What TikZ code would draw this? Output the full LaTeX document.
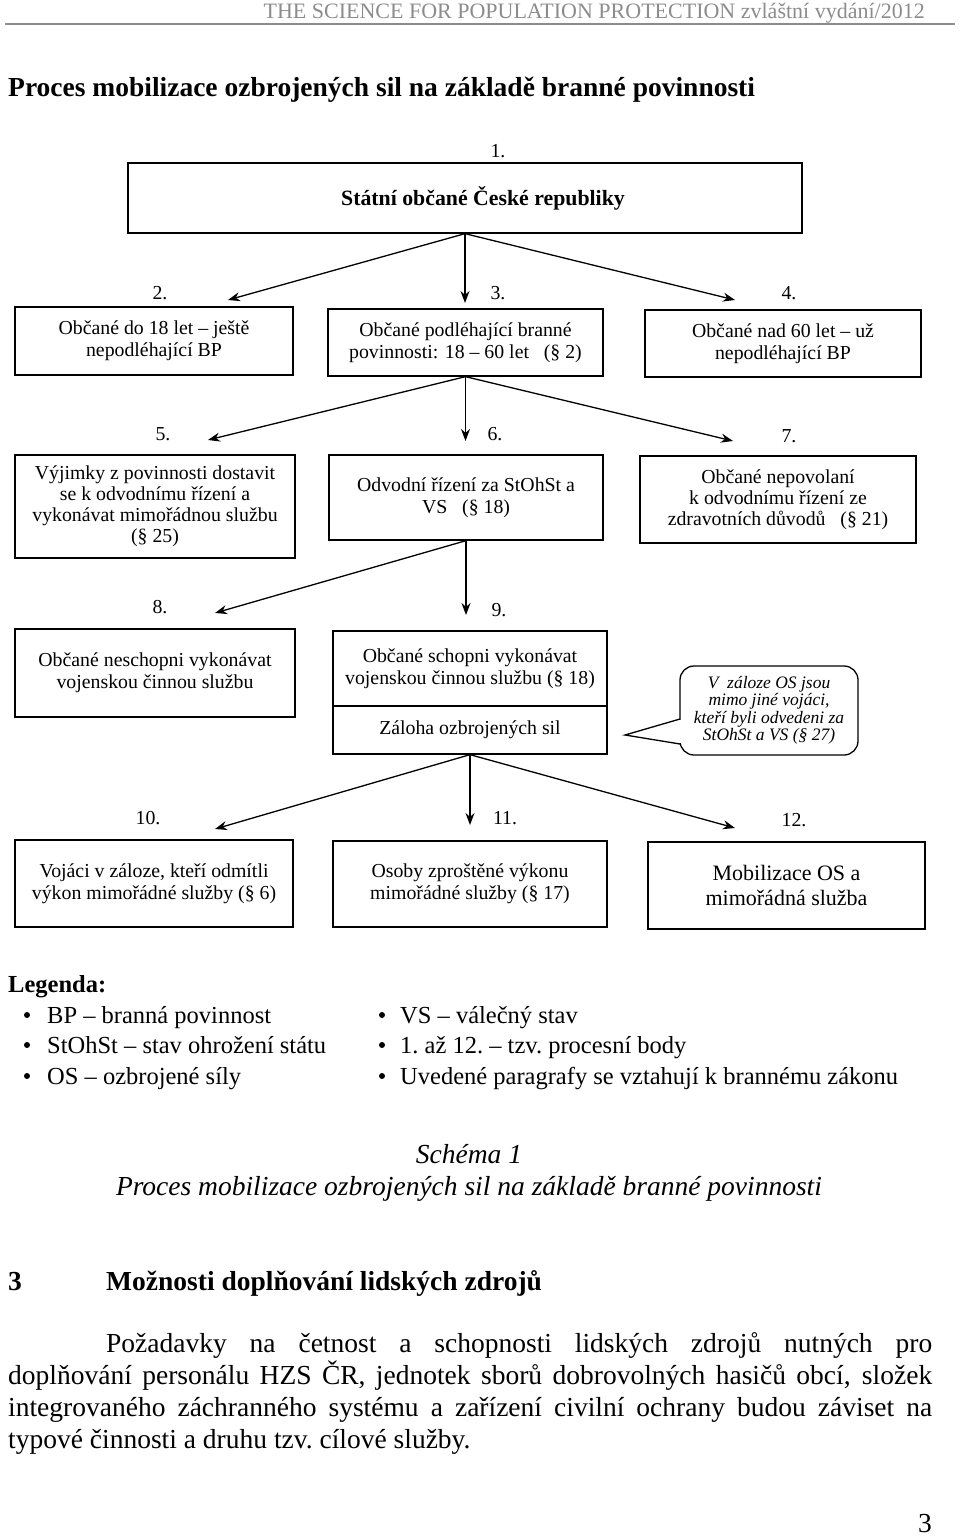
\documentclass[tikz,border=0pt]{standalone}
\usepackage{fontspec}
\setmainfont{Liberation Serif}
\usetikzlibrary{arrows.meta}
\definecolor{hdgray}{RGB}{140,140,140}
\begin{document}
\begin{tikzpicture}[x=1pt,y=-1pt,
  box/.style={draw,line width=1.3pt,inner sep=0pt,align=center,font=\fontsize{19.8}{22}\selectfont},
  lbl/.style={inner sep=0pt,font=\fontsize{19.8}{22}\selectfont},
  arr/.style={line width=1.3pt,-{Stealth[length=12pt,width=9pt]}},
  txt/.style={inner sep=0pt,anchor=base west},
  bul/.style={circle,fill=black,inner sep=0pt,minimum size=6pt}]
\useasboundingbox (0,0) rectangle (960,1538);

% header
\node[inner sep=0pt,anchor=base east,text=hdgray,font=\fontsize{22}{24}\selectfont] (hdr) at (925,19) {THE SCIENCE FOR POPULATION PROTECTION zvláštní vydání/2012};
\coordinate (rl) at (5,24); \coordinate (rr) at (955,24);
\draw[hdgray,line width=2pt] (rl) -- (rr);

% title
\node[txt,font=\bfseries\fontsize{27.5}{30}\selectfont] (title) at (8,97) {Proces mobilizace ozbrojených sil na základě branné povinnosti};

% boxes
\node[box,minimum width=674pt,minimum height=70pt,font=\bfseries\fontsize{21.8}{24}\selectfont] (b1) at (465,198) {\hspace*{36pt}Státní občané České republiky};
\node[box,minimum width=278pt,minimum height=68pt] (b2) at (154,341) {Občané do 18 let – ještě\\nepodléhající BP};
\node[box,minimum width=275pt,minimum height=67pt] (b3) at (465.5,342.5) {Občané podléhající branné\\povinnosti: 18 – 60 let~~ (§ 2)};
\node[box,minimum width=276pt,minimum height=67pt] (b4) at (783,343.5) {Občané nad 60 let – už\\nepodléhající BP};
\node[box,minimum width=280pt,minimum height=103pt,font=\fontsize{19.8}{21}\selectfont] (b5) at (155,506.5) {Výjimky z povinnosti dostavit\\se k odvodnímu řízení a\\vykonávat mimořádnou službu\\(§ 25)};
\node[box,minimum width=274pt,minimum height=85pt] (b6) at (466,497.5) {Odvodní řízení za StOhSt a\\VS~~ (§ 18)};
\node[box,minimum width=276pt,minimum height=87pt,font=\fontsize{19.8}{21}\selectfont] (b7) at (778,499.5) {Občané nepovolaní\\k odvodnímu řízení ze\\zdravotních důvodů~~ (§ 21)};
\node[box,minimum width=280pt,minimum height=88pt] (b8) at (155,673) {Občané neschopni vykonávat\\vojenskou činnou službu};
\node[box,minimum width=274pt,minimum height=75pt] (b9a) at (470,668.5) {Občané schopni vykonávat\\vojenskou činnou službu (§ 18)};
\node[box,minimum width=274pt,minimum height=48pt] (b9b) at (470,730) {Záloha ozbrojených sil};
\node[box,minimum width=278pt,minimum height=87pt] (b10) at (154,883.5) {Vojáci v záloze, kteří odmítli\\výkon mimořádné služby (§ 6)};
\node[box,minimum width=274pt,minimum height=86pt] (b11) at (470,884) {Osoby zproštěné výkonu\\mimořádné služby (§ 17)};
\node[box,minimum width=277pt,minimum height=87pt,font=\fontsize{22}{25}\selectfont] (b12) at (786.5,885.5) {Mobilizace OS a\\mimořádná služba};

% callout
\node[draw,line width=1.3pt,rounded corners=14pt,minimum width=178pt,minimum height=89pt,inner sep=0pt,align=center,font=\itshape\fontsize{17.5}{17.5}\selectfont] (co) at (769,710.5) {V~ záloze OS jsou\\mimo jiné vojáci,\\kteří byli odvedeni za\\StOhSt a VS (§ 27)};
\coordinate (ptr) at (625,735);
\coordinate (pu) at (680,719);
\coordinate (pd) at (680,744);
\fill[white] (677,720) rectangle (683,743);
\draw[line width=1.3pt,line join=miter] (pu) -- (ptr) -- (pd);

% labels
\node[lbl] (l1) at (498,151) {1.};
\node[lbl] (l2) at (160,293) {2.};
\node[lbl] (l3) at (498,293) {3.};
\node[lbl] (l4) at (789,293) {4.};
\node[lbl] (l5) at (163,434) {5.};
\node[lbl] (l6) at (495,434) {6.};
\node[lbl] (l7) at (789,436) {7.};
\node[lbl] (l8) at (160,607) {8.};
\node[lbl] (l9) at (499,610) {9.};
\node[lbl] (l10) at (148,818) {10.};
\node[lbl] (l11) at (505,818) {11.};
\node[lbl] (l12) at (794,820) {12.};

% arrows
\coordinate (e2) at (228,300); \coordinate (e3) at (465,303); \coordinate (e4) at (735,300);
\draw[arr] (b1.south) -- (e2);
\draw[arr] (b1.south) -- (e3);
\draw[arr] (b1.south) -- (e4);
\coordinate (e5) at (208,440); \coordinate (e6) at (465.5,441); \coordinate (e7) at (733,441);
\draw[arr] (b3.south) -- (e5);
\draw[arr] (b3.south) -- (e6);
\draw[arr] (b3.south) -- (e7);
\coordinate (e8) at (215,613); \coordinate (e9) at (466,615);
\draw[arr] (b6.south) -- (e8);
\draw[arr] (b6.south) -- (e9);
\coordinate (e10) at (215,829); \coordinate (e11) at (470,825); \coordinate (e12) at (735,828);
\draw[arr] (b9b.south) -- (e10);
\draw[arr] (b9b.south) -- (e11);
\draw[arr] (b9b.south) -- (e12);

% legend
\begin{scope}[font=\fontsize{24.5}{28}\selectfont]
\node[txt,font=\bfseries\fontsize{24.5}{28}\selectfont] (leg) at (8,992) {Legenda:};
\node[bul] (u1) at (27,1015) {};
\node[bul] (u2) at (27,1045) {};
\node[bul] (u3) at (27,1076) {};
\node[txt] (t1) at (47,1023) {BP – branná povinnost};
\node[txt] (t2) at (47,1053) {StOhSt – stav ohrožení státu};
\node[txt] (t3) at (47,1084) {OS – ozbrojené síly};
\node[bul] (u4) at (382,1015) {};
\node[bul] (u5) at (382,1045) {};
\node[bul] (u6) at (382,1076) {};
\node[txt] (t4) at (400,1023) {VS – válečný stav};
\node[txt] (t5) at (400,1053) {1.\ až 12.\ – tzv.\ procesní body};
\node[txt] (t6) at (400,1084) {Uvedené paragrafy se vztahují k brannému zákonu};
\end{scope}

% caption
\node[inner sep=0pt,anchor=base,font=\itshape\fontsize{27.5}{30}\selectfont] (cap1) at (469,1163) {Schéma 1};
\node[inner sep=0pt,anchor=base,font=\itshape\fontsize{27.5}{30}\selectfont] (cap2) at (469,1195) {Proces mobilizace ozbrojených sil na základě branné povinnosti};

% section
\node[txt,font=\bfseries\fontsize{27.5}{30}\selectfont] (sn) at (8,1290) {3};
\node[txt,font=\bfseries\fontsize{27.5}{30}\selectfont] (st) at (106,1290) {Možnosti doplňování lidských zdrojů};

% paragraph
\begin{scope}[font=\fontsize{27.5}{30}\selectfont]
\node[txt] (p1) at (106,1352) {\makebox[826pt][s]{Požadavky na četnost a schopnosti lidských zdrojů nutných pro}};
\node[txt] (p2) at (8,1384) {\makebox[924pt][s]{doplňování personálu HZS ČR, jednotek sborů dobrovolných hasičů obcí, složek}};
\node[txt] (p3) at (8,1416) {\makebox[924pt][s]{integrovaného záchranného systému a zařízení civilní ochrany budou záviset na}};
\node[txt] (p4) at (8,1448) {typové činnosti a druhu tzv.\ cílové služby.};
\node[inner sep=0pt,anchor=base east] (pg) at (932,1532) {3};
\end{scope}
\end{tikzpicture}
\end{document}
